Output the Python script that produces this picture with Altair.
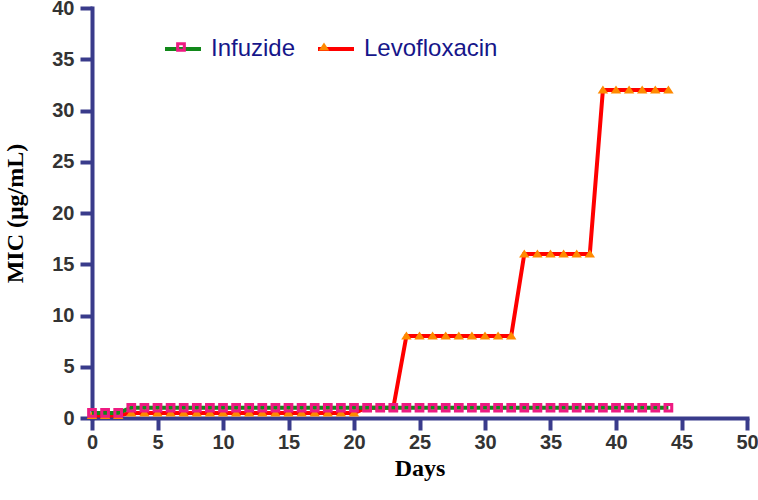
import altair as alt
import pandas as pd

# MIC readings per day for the two compounds
days = [0, 1, 2, 3, 4, 5, 6, 7, 8, 9, 10, 11, 12, 13, 14, 15, 16, 17, 18, 19, 20, 21,
        22, 23, 24, 25, 26, 27, 28, 29, 30, 31, 32, 33, 34, 35, 36, 37, 38, 39, 40, 41,
        42, 43, 44]
infuzide = [0.5, 0.5, 0.5, 1, 1, 1, 1, 1, 1, 1, 1, 1, 1, 1, 1, 1, 1, 1, 1, 1, 1, 1,
            1, 1, 1, 1, 1, 1, 1, 1, 1, 1, 1, 1, 1, 1, 1, 1, 1, 1, 1, 1,
            1, 1, 1]
levofloxacin = [0.25, 0.25, 0.25, 0.5, 0.5, 0.5, 0.5, 0.5, 0.5, 0.5, 0.5, 0.5, 0.5,
                0.5, 0.5, 0.5, 0.5, 0.5, 0.5, 0.5, 0.5, 1, 1, 1, 8, 8, 8, 8, 8, 8, 8,
                8, 8, 16, 16, 16, 16, 16, 16, 32, 32, 32, 32, 32, 32]
drugs = ["Infuzide", "Levofloxacin"]

x_ticks = [0, 5, 10, 15, 20, 25, 30, 35, 40, 45, 50]
y_ticks = [0, 5, 10, 15, 20, 25, 30, 35, 40]

rows = []
for name, series in zip(drugs, [infuzide, levofloxacin]):
    for d, v in zip(days, series):
        rows.append({"day": d, "mic": v, "drug": name, "drug_line": name})
df = pd.DataFrame(rows)

W, H = 655, 410
AXIS_COLOR = "#393b8b"
LINE_COLORS = ["#12881a", "#ff0000"]
MARKER_COLORS = ["#ee1a82", "#ff8a00"]
# hollow square ring and a filled triangle (custom symbol paths)
SQUARE_RING = "M-0.27,-0.27H0.27V0.27H-0.27Z M-0.1,-0.1V0.1H0.1V-0.1Z"
TRIANGLE = "M0,-0.25L0.29,0.2L-0.29,0.2Z"
SYM = 1296

LEG_X, LEG_Y = 71, 21

x_enc = alt.X(
    "day:Q",
    scale=alt.Scale(domain=[0, 50], nice=False, zero=False),
    axis=alt.Axis(
        values=x_ticks, title="Days", grid=False,
        domainColor=AXIS_COLOR, domainWidth=4, domainCap="square",
        tickColor=AXIS_COLOR, tickWidth=4, tickSize=12,
        labelFont="Liberation Sans", labelFontWeight="bold", labelFontSize=20,
        labelColor="#333333", labelPadding=2, labelFlush=False,
        titleFont="Liberation Serif", titleFontWeight="bold", titleFontSize=24,
        titleColor="#000000", titleX=W / 2, titleY=57, titleBaseline="alphabetic",
    ),
)
y_enc = alt.Y(
    "mic:Q",
    scale=alt.Scale(domain=[0, 40], nice=False),
    axis=alt.Axis(
        values=y_ticks, title="MIC (μg/mL)", grid=False,
        domainColor=AXIS_COLOR, domainWidth=4, domainCap="square",
        tickColor=AXIS_COLOR, tickWidth=4, tickSize=12,
        labelFont="Liberation Sans", labelFontWeight="bold", labelFontSize=20,
        labelColor="#333333", labelPadding=6, labelFlush=False,
        titleFont="Liberation Serif", titleFontWeight="bold", titleFontSize=24,
        titleColor="#000000", titleX=-70, titleY=205, titleAngle=-90,
        titleBaseline="alphabetic", titleAlign="center",
    ),
)

line_legend = alt.Legend(
    orient="none", legendX=LEG_X, legendY=LEG_Y, direction="horizontal",
    title=None, symbolType="stroke", symbolSize=SYM, symbolStrokeWidth=4,
    labelFont="Liberation Sans", labelFontSize=24, labelColor="#16168a",
    labelOffset=8, columnPadding=14, padding=0, zindex=1,
)
point_legend = alt.Legend(
    orient="none", legendX=LEG_X, legendY=LEG_Y, direction="horizontal",
    title=None, symbolSize=SYM, symbolStrokeWidth=0,
    labelFont="Liberation Sans", labelFontSize=24, labelColor="#16168a",
    labelOpacity=0, labelOffset=8, columnPadding=14, padding=0, zindex=2,
)

stroke_enc = alt.Stroke(
    "drug_line:N", scale=alt.Scale(range=LINE_COLORS), legend=line_legend
)
fill_enc = alt.Fill(
    "drug:N", scale=alt.Scale(range=MARKER_COLORS), legend=point_legend
)
shape_enc = alt.Shape(
    "drug:N", scale=alt.Scale(range=[SQUARE_RING, TRIANGLE]), legend=point_legend
)

base = alt.Chart(df)


def line_layer(name):
    return base.transform_filter(alt.datum.drug == name).mark_line(
        strokeWidth=4
    ).encode(x=x_enc, y=y_enc, stroke=stroke_enc)


def point_layer(name):
    return base.transform_filter(alt.datum.drug == name).mark_point(
        filled=True, opacity=1, strokeWidth=0, size=SYM
    ).encode(x=x_enc, y=y_enc, fill=fill_enc, shape=shape_enc)


chart = alt.layer(
    line_layer("Levofloxacin"),
    point_layer("Levofloxacin"),
    line_layer("Infuzide"),
    point_layer("Infuzide"),
).properties(
    width=W,
    height=H,
    autosize=alt.AutoSizeParams(type="none"),
    padding={"left": 92, "top": 8, "right": 758 - 92 - W, "bottom": 500 - 8 - H},
).configure(
    background="white",
    view=alt.ViewConfig(stroke="transparent", strokeWidth=0),
)

chart.save("out.html", embed_options={"renderer": "svg", "actions": False})
